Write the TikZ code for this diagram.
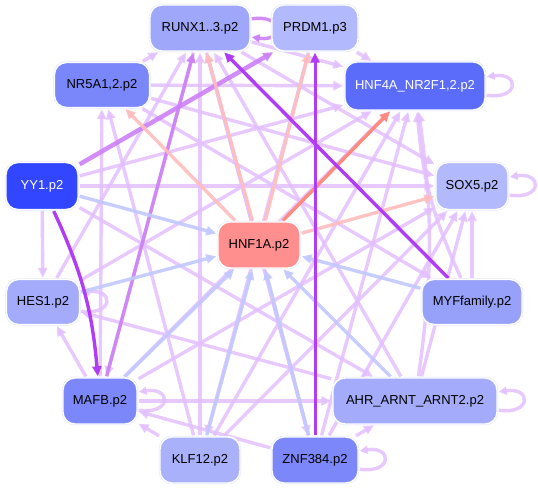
\documentclass[tikz,border=0pt]{standalone}
\usepackage{fontspec}
\setmainfont{Liberation Sans}
\usetikzlibrary{arrows.meta,backgrounds}
\definecolor{cYY}{HTML}{3346FF}
\definecolor{cHNFf}{HTML}{5B6CFA}
\definecolor{cNR}{HTML}{7A87FA}
\definecolor{cMAFB}{HTML}{7C88F9}
\definecolor{cZNF}{HTML}{7C88F9}
\definecolor{cMYF}{HTML}{97A1FA}
\definecolor{cRUNX}{HTML}{9EA7F9}
\definecolor{cHES}{HTML}{A3ABFA}
\definecolor{cAHR}{HTML}{A3ABFA}
\definecolor{cKLF}{HTML}{A9B1FB}
\definecolor{cPRDM}{HTML}{B2B9FC}
\definecolor{cSOX}{HTML}{B2B9FC}
\definecolor{cHNFa}{HTML}{FF8E8E}
\definecolor{eLight}{HTML}{E3BFFF}
\definecolor{eMed}{HTML}{CC80F7}
\definecolor{eDark}{HTML}{B03CF5}
\definecolor{eBlue}{HTML}{C2C9FF}
\definecolor{ePink}{HTML}{FFBDBD}
\definecolor{eSalmon}{HTML}{FF8A80}
\definecolor{halo}{HTML}{E2E5FF}
\tikzset{
  tf/.style={rounded corners=12pt, draw=white, line width=1.4pt, inner sep=0pt,
     font=\fontsize{13}{15}\selectfont, minimum height=46pt,
     preaction={draw=halo, line width=2.4pt}},
  arr/.style={-{Triangle[length=10pt,width=9pt]}, line width=3.4pt, shorten >=1pt, shorten <=1pt},
  el/.style={arr, draw=eLight, opacity=0.85},
  em/.style={arr, draw=eMed, opacity=0.9},
  ed/.style={arr, draw=eDark},
  eb/.style={arr, draw=eBlue, opacity=0.9},
  ep/.style={arr, draw=ePink, opacity=0.9},
  es/.style={arr, draw=eSalmon},
  loopst/.style={arr, -{Triangle[length=8pt,width=8pt]}},
}
\begin{document}
\begin{tikzpicture}[x=1pt,y=-1pt]
\useasboundingbox (0,0) rectangle (538,489);
% nodes
\node[tf, fill=cRUNX, minimum width=100pt] (RUNX) at (200,28) {RUNX1..3.p2};
\node[tf, fill=cPRDM, minimum width=86pt] (PRDM) at (315,28) {PRDM1.p3};
\node[tf, fill=cNR, minimum width=95pt, minimum height=45pt] (NR) at (102,85) {NR5A1,2.p2};
\node[tf, fill=cHNFf, minimum width=140pt, minimum height=48pt, text=white] (HNFf) at (415,86) {HNF4A\_NR2F1,2.p2};
\node[tf, fill=cYY, minimum width=72pt, minimum height=47pt, text=white] (YY) at (42,186) {YY1.p2};
\node[tf, fill=cSOX, minimum width=72pt, minimum height=47pt] (SOX) at (472,186) {SOX5.p2};
\node[tf, fill=cHNFa, minimum width=82pt] (HNFa) at (259,245) {HNF1A.p2};
\node[tf, fill=cHES, minimum width=73pt, minimum height=45pt] (HES) at (43,302) {HES1.p2};
\node[tf, fill=cMYF, minimum width=100pt, minimum height=45pt] (MYF) at (472,302) {MYFfamily.p2};
\node[tf, fill=cMAFB, minimum width=74pt] (MAFB) at (100,401) {MAFB.p2};
\node[tf, fill=cAHR, minimum width=164pt] (AHR) at (415,401) {AHR\_ARNT\_ARNT2.p2};
\node[tf, fill=cKLF, minimum width=80pt] (KLF) at (200,460) {KLF12.p2};
\node[tf, fill=cZNF, minimum width=86pt] (ZNF) at (315,460) {ZNF384.p2};
\begin{pgfonlayer}{background}
\fill[white] (0,0) rectangle (538,489);
% light purple edges
\draw[el] (NR) -- (RUNX);
\draw[el] (NR) -- (HNFf);
\draw[el] (NR) -- (SOX);
\draw[el] (RUNX) -- (HNFf);
\draw[el] (RUNX) -- (SOX);
\draw[el] (PRDM) -- (HNFf);
\draw[el] (YY) -- (HNFf);
\draw[el] (YY) -- (SOX);
\draw[el] (YY) -- (HES);
\draw[el] (YY) -- (AHR);
\draw[el] (HES) -- (RUNX);
\draw[el] (HES) -- (HNFf);
\draw[el] (MAFB) -- (NR);
\draw[el] (MAFB) -- (HES);
\draw[el] (MAFB) -- (HNFf);
\draw[el] (MAFB) -- (SOX);
\draw[el] (MAFB) -- (AHR);
\draw[el] (KLF) -- (MAFB);
\draw[el] (KLF) -- (RUNX);
\draw[el] (KLF) -- (HNFf);
\draw[el] (KLF) -- (SOX);
\draw[el] (KLF) -- (NR);
\draw[el] (ZNF) -- (RUNX);
\draw[el] (ZNF) -- (MAFB);
\draw[el] (ZNF) -- (AHR);
\draw[el] (ZNF) -- (HNFf);
\draw[el] (ZNF) -- (SOX);
\draw[el] (AHR) -- (RUNX);
\draw[el] (AHR) -- (HES);
\draw[el] (AHR) -- (SOX);
\draw[el] (AHR) to[bend right=8] (HNFf);
\draw[el] (MYF) -- (SOX);
\draw[el] (MYF) to[bend left=10] (HNFf);
\draw[el] (RUNX) -- (MAFB);
\draw[el] (RUNX) -- (ZNF);
\draw[el] (PRDM) -- (KLF);
\draw[el] (NR) -- (MYF);
% self loops
\draw[el,loopst] ([yshift=-9pt]HNFf.east) .. controls ([xshift=34pt,yshift=-14pt]HNFf.east) and ([xshift=34pt,yshift=14pt]HNFf.east) .. ([yshift=9pt]HNFf.east);
\draw[el,loopst] ([yshift=-9pt]SOX.east) .. controls ([xshift=34pt,yshift=-14pt]SOX.east) and ([xshift=34pt,yshift=14pt]SOX.east) .. ([yshift=9pt]SOX.east);
\draw[el,loopst] ([yshift=-9pt]AHR.east) .. controls ([xshift=34pt,yshift=-14pt]AHR.east) and ([xshift=34pt,yshift=14pt]AHR.east) .. ([yshift=9pt]AHR.east);
\draw[el,loopst] ([yshift=-9pt]ZNF.east) .. controls ([xshift=34pt,yshift=-14pt]ZNF.east) and ([xshift=34pt,yshift=14pt]ZNF.east) .. ([yshift=9pt]ZNF.east);
\draw[el,loopst] ([yshift=-9pt]MAFB.east) .. controls ([xshift=34pt,yshift=-14pt]MAFB.east) and ([xshift=34pt,yshift=14pt]MAFB.east) .. ([yshift=9pt]MAFB.east);
\draw[el,loopst] ([yshift=-9pt]HES.east) .. controls ([xshift=34pt,yshift=-14pt]HES.east) and ([xshift=34pt,yshift=14pt]HES.east) .. ([yshift=9pt]HES.east);
\draw[em,loopst] ([yshift=9pt]RUNX.east) .. controls ([xshift=34pt,yshift=14pt]RUNX.east) and ([xshift=34pt,yshift=-14pt]RUNX.east) .. ([yshift=-9pt]RUNX.east);
% medium purple
\draw[em, line width=4.5pt] (YY) -- (PRDM);
\draw[em] (MAFB) -- (RUNX);
% blue edges into HNF1A
\draw[eb] (YY) -- (HNFa);
\draw[eb] (HES) -- (HNFa);
\draw[eb] (MAFB) -- (HNFa);
\draw[eb] (KLF) -- (HNFa);
\draw[eb] (ZNF) -- (HNFa);
\draw[eb] (AHR) -- (HNFa);
\draw[eb] (MYF) -- (HNFa);
% pink edges from HNF1A
\draw[ep] (HNFa) -- (NR);
\draw[ep] (HNFa) -- (RUNX);
\draw[ep] (HNFa) -- (PRDM);
\draw[ep] (HNFa) -- (SOX);
\draw[es] (HNFa) -- (HNFf);
% dark purple
\draw[ed] (YY) to[bend left=10] (MAFB);
\draw[ed] (MYF) -- (RUNX);
\draw[ed, line width=3pt] (ZNF.north) -- (PRDM.south);
\end{pgfonlayer}
\end{tikzpicture}
\end{document}
